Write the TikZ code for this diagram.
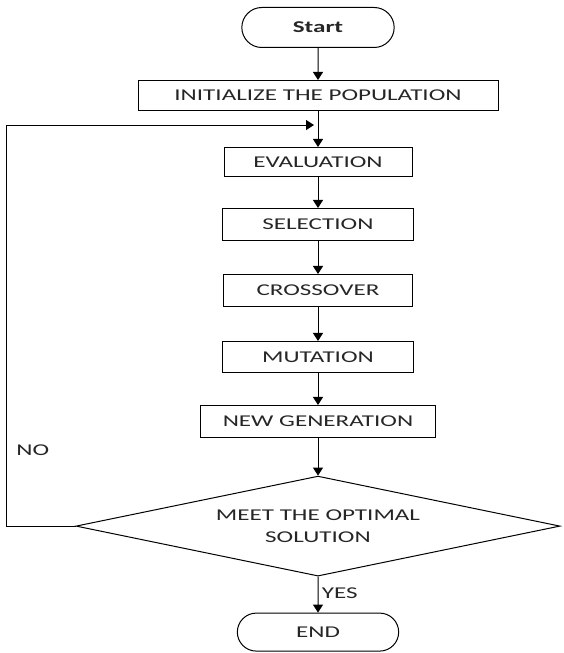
\documentclass[tikz,border=0pt]{standalone}
\usepackage{fontspec}
\setmainfont[FakeStretch=1.52]{Carlito}
\usetikzlibrary{shapes.geometric, shapes.misc, arrows.meta, calc, positioning}
\tikzstyle{startstop} = [rounded rectangle, line width=1pt, minimum width=159pt, minimum height=40pt, text centered, draw=black]
\tikzstyle{process} = [rectangle, line width=1pt, minimum width=191pt, minimum height=31pt, text centered, draw=black]
\tikzstyle{decision} = [diamond, line width=1pt, inner sep=0pt, aspect=4.84, minimum width=484pt, minimum height=100pt, align=center, draw=black]
\tikzstyle{arrow} = [line width=1pt, -{Triangle[length=8pt,width=10pt]}]

\begin{document}
\begin{tikzpicture}[x=1pt, y=1pt, node distance = 33pt, font=\fontsize{16.5pt}{21.5pt}\selectfont, text=black!85]
	\useasboundingbox (0,0) rectangle (563,653);
	\node (Start) [startstop] at (318,625.5) {\textbf{Start}};
	\node (Init) [process, minimum width=360pt, minimum height=30pt, below = 32pt of Start] {INITIALIZE THE POPULATION};
	\node (Eval) [process, minimum width=188pt, minimum height=29pt, below = 36pt of Init] {EVALUATION};
	\node (Select) [process, minimum height=32pt, below = 31pt of Eval] {SELECTION};
	\node (Cross) [process, minimum width=189pt, minimum height=32pt, below = of Select] {CROSSOVER};
	\node (Mutate) [process, below = 34pt of Cross] {MUTATION};
	\node (NewGen) [process, minimum width=235pt, minimum height=31.6pt, below = 32pt of Mutate] {NEW GENERATION};
	\node (Decision) [decision, below = 38pt of NewGen] {MEET THE OPTIMAL\\SOLUTION};
	\node (End) [startstop, minimum width=168pt, minimum height=38pt, below = 36pt of Decision] {END};
	\coordinate (Merge) at ($(Init.south)!0.39!(Eval.north)$);
	\coordinate [left = 69pt of Decision.west] (LoopCorner);
	\coordinate (LoopTop) at (LoopCorner |- Merge);
	\draw [arrow] (Start) -- (Init);
	\draw [arrow] (Init) -- (Eval);
	\draw [arrow] (Eval) -- (Select);
	\draw [arrow] (Select) -- (Cross);
	\draw [arrow] (Cross) -- (Mutate);
	\draw [arrow] (Mutate) -- (NewGen);
	\draw [arrow] (NewGen) -- (Decision);
	\draw [arrow] (Decision) -- node[right, pos=0.45] {YES} (End);
	\draw [arrow, shorten >=4pt] (Decision.west) -- (LoopCorner) -- node[pos=0.19, right=6pt] {NO} (LoopTop) -- (Merge);
\end{tikzpicture}
\end{document}
